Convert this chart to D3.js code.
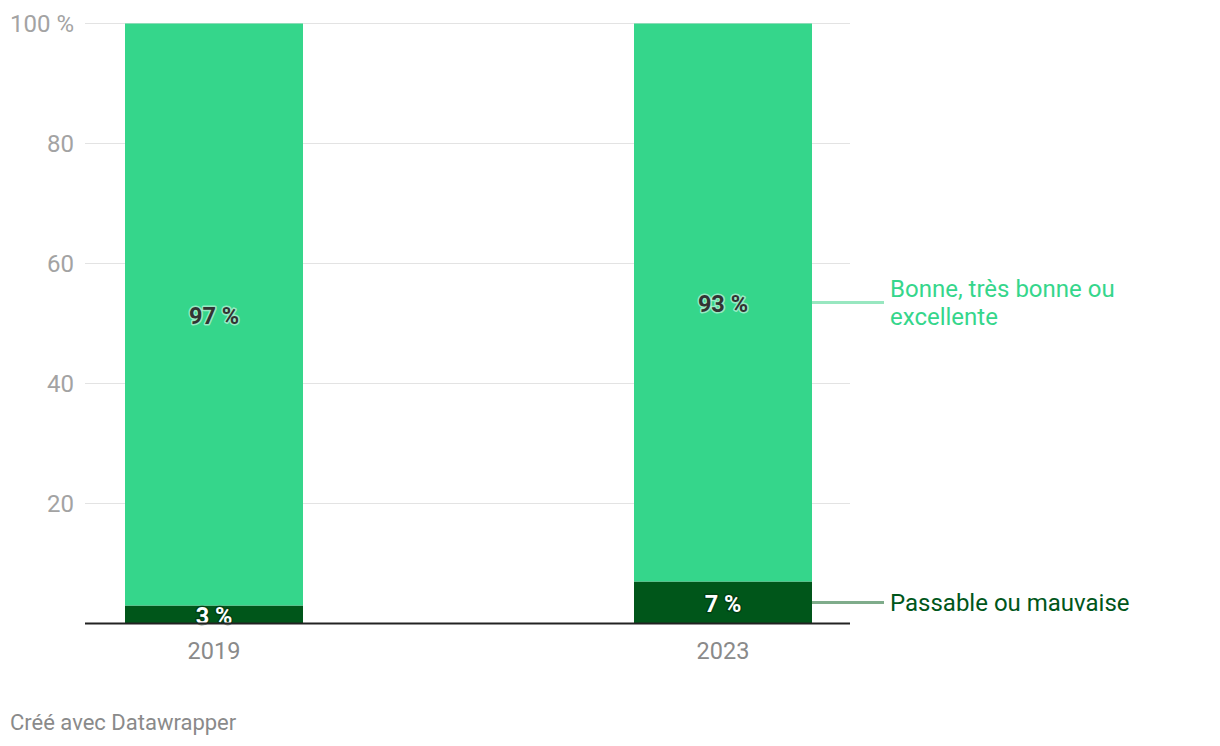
<!DOCTYPE html>
<html><head><meta charset="utf-8">
<script src="https://cdn.jsdelivr.net/npm/d3@7"></script>
<style>
body{margin:0;background:#fff;font-family:Roboto,"Noto Sans",sans-serif;}
svg text{font-family:Roboto,"Noto Sans",sans-serif;}
</style></head><body>
<svg id="c" width="1220" height="746"></svg>
<script>
const categories = ["2019", "2023"];
const seriesNames = ["Passable ou mauvaise", "Bonne, très bonne ou excellente"];
const passable = [3, 7];
const bonne = [97, 93];
const yTicks = [0, 20, 40, 60, 80, 100];
const colors = ["#00561a", "#35d68b"];
const legendLineColors = ["#7fac8b", "#98e7c0"];
const labelColors = ["#00561a", "#35d68b"];

const svg = d3.select("#c");
const x = d3.scaleBand().domain(categories).range([85, 852]).paddingInner(0.6503).paddingOuter(0.0786);
const y = d3.scaleLinear().domain([0, 100]).range([623.5, 23.5]);

// grid
svg.append("g").selectAll("line").data(yTicks.filter(d => d > 0)).join("line")
  .attr("x1", 85).attr("x2", 850).attr("y1", d => y(d)).attr("y2", d => y(d))
  .attr("stroke", "#e3e3e3").attr("stroke-width", 1);

// y labels
svg.append("g").selectAll("text").data(yTicks.filter(d => d > 0)).join("text")
  .attr("x", 74).attr("y", d => y(d)).attr("dy", "0.35em").attr("text-anchor", "end")
  .attr("fill", "#a3a3a3").attr("font-size", 24)
  .text(d => d === 100 ? "100 %" : d);

const stackData = categories.map((c, i) => ({cat: c, passable: passable[i], bonne: bonne[i]}));
const stack = d3.stack().keys(["passable", "bonne"])(stackData);

const g = svg.append("g");
stack.forEach((layer, li) => {
  g.append("g").selectAll("rect").data(layer).join("rect")
    .attr("x", d => x(d.data.cat)).attr("width", x.bandwidth())
    .attr("y", d => y(d[1])).attr("height", d => y(d[0]) - y(d[1]))
    .attr("fill", colors[li]);
});

// value labels
stack.forEach((layer, li) => {
  g.append("g").selectAll("text").data(layer).join("text")
    .attr("x", d => x(d.data.cat) + x.bandwidth() / 2)
    .attr("y", d => (y(d[0]) + y(d[1])) / 2 + 1)
    .attr("dy", "0.36em").attr("text-anchor", "middle")
    .attr("font-size", 23.5).attr("font-weight", "bold")
    .attr("fill", li === 0 ? "#ffffff" : "#333333")
    .attr("stroke", li === 0 ? "rgba(0,40,10,0.45)" : "rgba(235,255,245,0.55)")
    .attr("stroke-width", 3).attr("paint-order", "stroke").attr("stroke-linejoin", "round")
    .text(d => (d[1] - d[0]) + " %");
});

// baseline
svg.append("line").attr("x1", 85).attr("x2", 850).attr("y1", y(0)).attr("y2", y(0))
  .attr("stroke", "#222").attr("stroke-width", 2);

// x labels
svg.append("g").selectAll("text").data(categories).join("text")
  .attr("x", d => x(d) + x.bandwidth() / 2).attr("y", 651).attr("dy", "0.35em")
  .attr("text-anchor", "middle").attr("fill", "#8a8a8a").attr("font-size", 23.5)
  .text(d => d);

// direct legend labels
const last = categories.length - 1;
const labelLines = [["Passable ou mauvaise"], ["Bonne, très bonne ou", "excellente"]];
stack.forEach((layer, li) => {
  const d = layer[last];
  const ym = (y(d[0]) + y(d[1])) / 2;
  const x0 = x(d.data.cat) + x.bandwidth();
  svg.append("line").attr("x1", x0).attr("x2", 884).attr("y1", ym).attr("y2", ym)
    .attr("stroke", legendLineColors[li]).attr("stroke-width", 3);
  const lines = labelLines[li];
  const lh = 28;
  const t = svg.append("text").attr("x", 890).attr("fill", labelColors[li]).attr("font-size", 24);
  lines.forEach((l, k) => {
    t.append("tspan").attr("x", 890)
      .attr("y", ym + (k - (lines.length - 1) / 2) * lh).attr("dy", "0.35em").text(l);
  });
});

// footer
svg.append("text").attr("x", 10).attr("y", 722).attr("dy", "0.35em")
  .attr("fill", "#8a8a8a").attr("font-size", 22).text("Créé avec Datawrapper");
</script>
</body></html>
